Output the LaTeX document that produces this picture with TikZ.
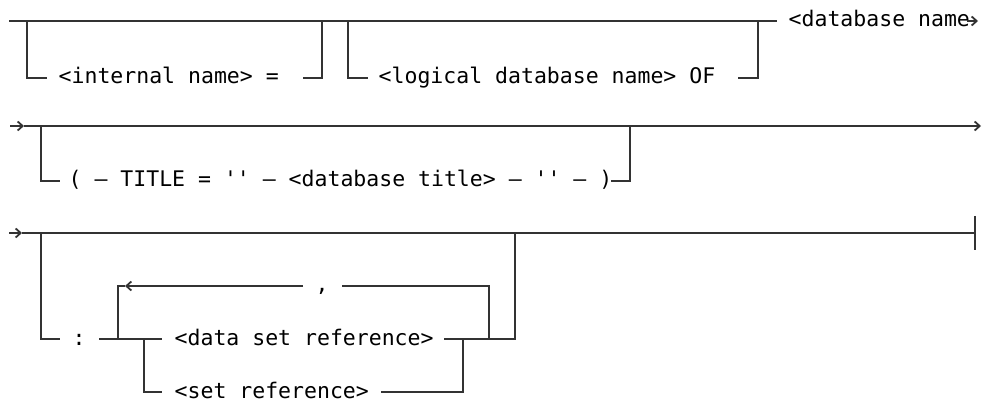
\documentclass[tikz,border=0pt]{standalone}
\usepackage{fontspec}
\setmonofont{DejaVu Sans Mono}
\usetikzlibrary{arrows.meta}
\begin{document}
\begin{tikzpicture}[x=1pt,y=-1pt,
  rail/.style={line width=1.8pt, draw=black!80},
  word/.style={font=\ttfamily\fontsize{21.5}{26}\selectfont, inner sep=0pt, anchor=base west, text=black},
  sym/.style={font=\ttfamily\fontsize{21.5}{26}\selectfont, inner sep=0pt, anchor=base, text=black},
  tip/.style={-{Straight Barb[length=5pt,width=9pt]}},
]
\useasboundingbox (0,0) rectangle (985,403);

% ---------- first line: optional internal name and logical database name
\coordinate (r1s) at (9,21);
\coordinate (r1e) at (777,21);
\coordinate (o1a) at (27,21);  \coordinate (o1b) at (27,78);  \coordinate (o1c) at (47,78);
\node[word] (int) at (58.5,84) {<internal name> =};
\coordinate (o1d) at (303,78); \coordinate (o1e) at (322,78); \coordinate (o1f) at (322,21);
\coordinate (o2a) at (348,21); \coordinate (o2b) at (348,78); \coordinate (o2c) at (368,78);
\node[word] (log) at (378.5,84) {<logical database name> OF};
\coordinate (o2d) at (738,78); \coordinate (o2e) at (758,78); \coordinate (o2f) at (758,21);
\node[word] (dbn) at (788.5,27) {<database name};
\coordinate (r1t) at (978,21);

\draw[rail] (r1s) -- (r1e);
\draw[rail] (o1a) -- (o1b) -- (o1c);
\draw[rail] (o1d) -- (o1e) -- (o1f);
\draw[rail] (o2a) -- (o2b) -- (o2c);
\draw[rail] (o2d) -- (o2e) -- (o2f);
\draw[rail,tip] ([xshift=-3pt]dbn.east |- r1t) -- (r1t);

% ---------- second line: optional database title
\coordinate (r2s) at (10,126); \coordinate (r2a) at (24,126); \coordinate (r2e) at (981,126);
\coordinate (t1a) at (41,126); \coordinate (t1b) at (41,181); \coordinate (t1c) at (60,181);
\node[word] (ttl) at (68.5,187) {( – TITLE = '' – <database title> – '' – )};
\coordinate (t1d) at (611,181); \coordinate (t1e) at (630,181); \coordinate (t1f) at (630,126);

\draw[rail,tip] (r2s) -- (r2a);
\draw[rail,tip] (r2a) -- (r2e);
\draw[rail] (t1a) -- (t1b) -- (t1c);
\draw[rail] (t1d) -- (t1e) -- (t1f);

% ---------- third line: optional list of references
\coordinate (r3s) at (9,233); \coordinate (r3a) at (22,233); \coordinate (r3e) at (975,233);
\coordinate (r3u) at (975,216); \coordinate (r3d) at (975,250);
\coordinate (c1a) at (41,233); \coordinate (c1b) at (41,339); \coordinate (c1c) at (60,339);
\node[sym] (colon) at (79,345) {:};
\coordinate (c1d) at (99,339); \coordinate (lpA) at (118,339); \coordinate (brA) at (144,339);
\coordinate (c1e) at (162,339);
\node[word] (dsr) at (174.5,345) {<data set reference>};
\coordinate (c2a) at (444,339); \coordinate (brB) at (463,339); \coordinate (lpB) at (489,339);
\coordinate (c2b) at (515,339); \coordinate (c2c) at (515,233);
% repeat loop with separator
\coordinate (lpAt) at (118,286); \coordinate (lpArr) at (125,286);
\coordinate (cm1) at (303,286);
\node[sym] (comma) at (322,292) {,};
\coordinate (cm2) at (342,286); \coordinate (lpBt) at (489,286);
% alternative branch
\coordinate (brAb) at (144,392); \coordinate (brAc) at (162,392);
\node[word] (sr) at (174.5,398) {<set reference>};
\coordinate (brBb) at (381,392); \coordinate (brBc) at (463,392);

\draw[rail,tip] (r3s) -- (r3a);
\draw[rail] (r3a) -- (r3e);
\draw[rail] (r3u) -- (r3d);
\draw[rail] (c1a) -- (c1b) -- (c1c);
\draw[rail] (c1d) -- (c1e);
\draw[rail] (c2a) -- (c2b) -- (c2c);
\draw[rail,tip] (cm1) -- (lpArr);
\draw[rail] (lpArr) -- (lpAt) -- (lpA);
\draw[rail] (cm2) -- (lpBt) -- (lpB);
\draw[rail] (brA) -- (brAb) -- (brAc);
\draw[rail] (brBb) -- (brBc) -- (brB);
\end{tikzpicture}
\end{document}
